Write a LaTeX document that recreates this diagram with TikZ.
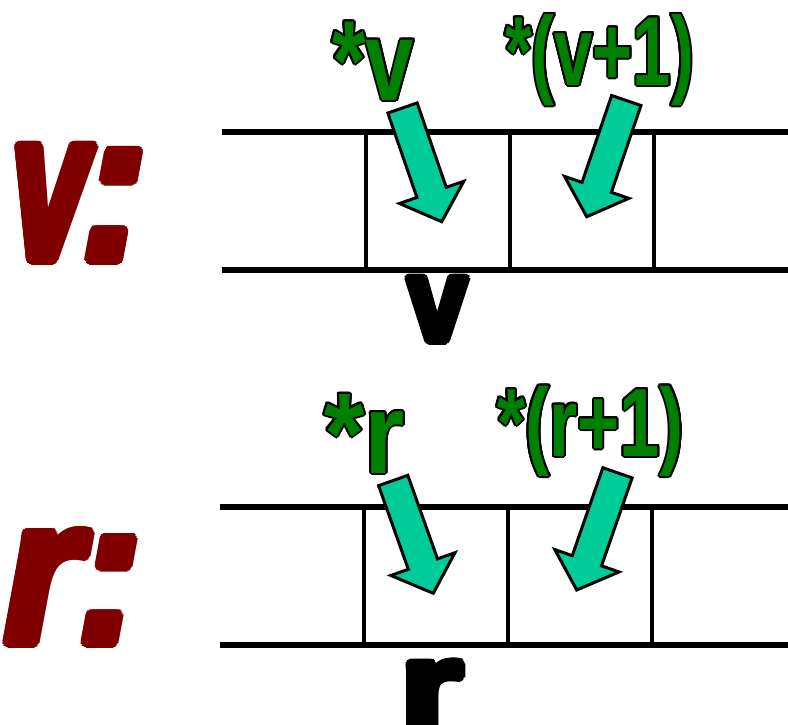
\documentclass[tikz,border=0pt]{standalone}
\usepackage{fontspec}
\setmainfont{Liberation Sans}
\usepackage{graphicx}
\usetikzlibrary{calc}

\definecolor{ptrgreen}{HTML}{008000}
\definecolor{cellteal}{HTML}{00CC99}
\definecolor{namered}{HTML}{800000}

% Horizontally squeezed text with a ring of copies round it:
% #1 ring radius, #2 ring colour, #3 fill colour, #4 x scale, #5 text.
\newcommand\ringed[5]{%
  \begingroup
  \foreach \ang in {0,22.5,...,337.5}{%
    \pgfmathsetlengthmacro\ringdx{#1*cos(\ang)}%
    \pgfmathsetlengthmacro\ringdy{#1*sin(\ang)}%
    \rlap{\kern\ringdx\smash{\raise\ringdy\hbox{\scalebox{#4}[1]{\color{#2}#5}}}}%
  }%
  \scalebox{#4}[1]{\color{#3}#5}%
  \endgroup}

% Block arrow from tail coordinate #1 to tip coordinate #2.
\newcommand\tealarrow[2]{%
  \coordinate (#1-base) at ($(#2)!31pt!(#1)$);
  \draw[arrowbody]
    ($(#1)!15.5pt!90:(#2)$) --
    ($(#1-base)!15.5pt!90:(#2)$) --
    ($(#1-base)!34pt!90:(#2)$) --
    (#2) --
    ($(#1-base)!34pt!-90:(#2)$) --
    ($(#1-base)!15.5pt!-90:(#2)$) --
    ($(#1)!15.5pt!-90:(#2)$) -- cycle;
}

\begin{document}
\begin{tikzpicture}[x=1pt,y=-1pt,
  rowline/.style={line width=5.5pt},
  cellwall/.style={line width=4pt},
  arrowbody/.style={fill=cellteal,draw=black,line width=3pt,line join=miter},
  txt/.style={inner sep=0pt,anchor=base west}]
\useasboundingbox (0,0) rectangle (788,724);

% array v
\draw[rowline] (222,132) -- (792,132);
\draw[rowline] (222,269.8) -- (792,269.8);
\foreach \cx in {366.3,510.3,654.2}
  \draw[cellwall] (\cx,132) -- (\cx,269.8);

% array r
\draw[rowline] (220,507) -- (792,507);
\draw[rowline] (220,645) -- (792,645);
\foreach \cx in {364,508.3,652}
  \draw[cellwall] (\cx,507) -- (\cx,645);

% array names
\node[txt,font=\bfseries\itshape\fontsize{216}{216}\selectfont] (vlabel) at (12,260)
  {\ringed{5pt}{namered}{namered}{0.63}{v}\kern-7pt\ringed{5pt}{namered}{namered}{0.95}{:}};
\node[txt,font=\bfseries\itshape\fontsize{208}{208}\selectfont] (rlabel) at (4,643)
  {\ringed{5pt}{namered}{namered}{0.95}{r}\kern-4pt\ringed{5pt}{namered}{namered}{0.95}{:}};

% pointer names under the arrays
\node[txt,font=\bfseries\fontsize{119.5}{119.5}\selectfont] (vname) at (408,341)
  {\ringed{4pt}{black}{black}{0.89}{v}};
\node[txt,font=\bfseries\fontsize{119.5}{119.5}\selectfont] (rname) at (400,727)
  {\ringed{5pt}{black}{black}{1.35}{r}};

% dereference labels
\node[txt,font=\bfseries\fontsize{114}{114}\selectfont] (vstar) at (332,100)
  {\ringed{2pt}{black}{ptrgreen}{0.76}{*v}};
\node[txt,font=\bfseries\fontsize{98}{98}\selectfont] (vnext) at (505,85)
  {\ringed{2pt}{black}{ptrgreen}{0.7}{*(v+1)}};
\node[txt,font=\bfseries\fontsize{115}{115}\selectfont] (rstar) at (324,473)
  {\ringed{2pt}{black}{ptrgreen}{0.9}{*r}};
\node[txt,font=\bfseries\fontsize{97}{97}\selectfont] (rnext) at (497,456)
  {\ringed{2pt}{black}{ptrgreen}{0.745}{*(r+1)}};

% arrows into the cells
\coordinate (a1) at (402.5,108);   \coordinate (a1tip) at (441.7,221.7);
\coordinate (a2) at (626.3,100.5); \coordinate (a2tip) at (586.7,216.7);
\coordinate (a3) at (393.2,480.5); \coordinate (a3tip) at (433.3,593.3);
\coordinate (a4) at (617.5,472.8); \coordinate (a4tip) at (576.7,590);
\tealarrow{a1}{a1tip}
\tealarrow{a2}{a2tip}
\tealarrow{a3}{a3tip}
\tealarrow{a4}{a4tip}
\end{tikzpicture}
\end{document}
